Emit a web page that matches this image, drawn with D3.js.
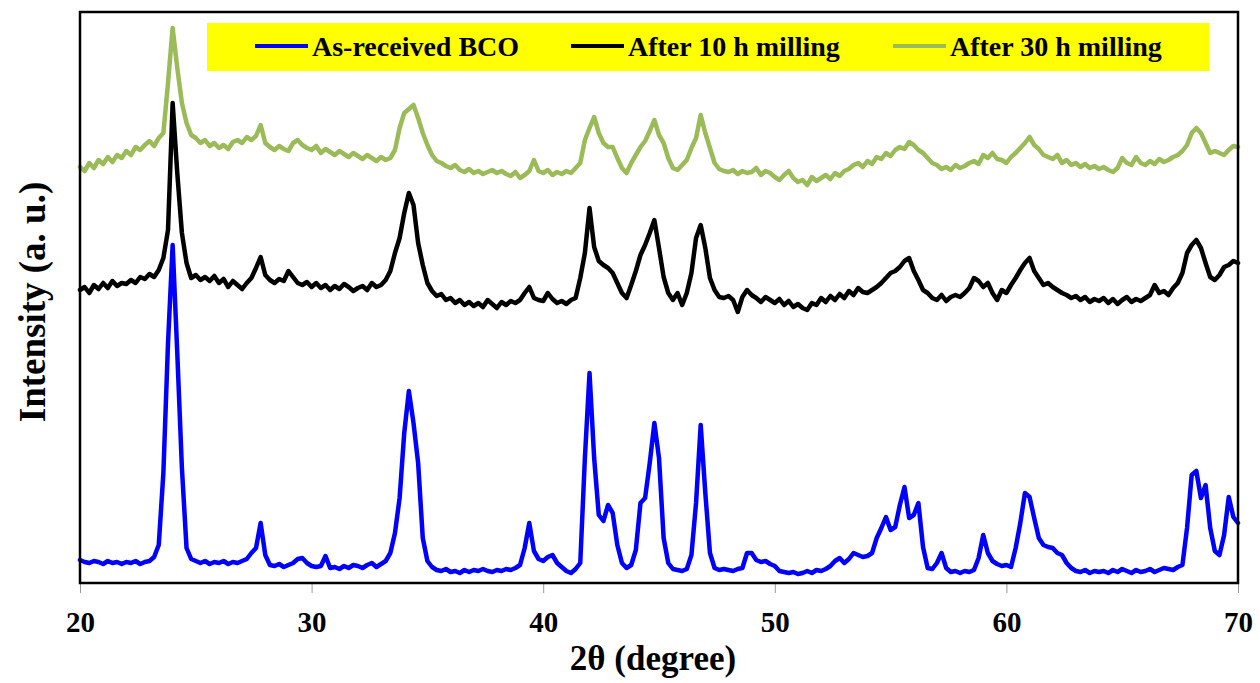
<!DOCTYPE html>
<html>
<head>
<meta charset="utf-8">
<script src="https://cdn.jsdelivr.net/npm/d3@7"></script>
<style>
  html, body { margin: 0; padding: 0; background: #fff; }
  svg text { font-family: "Liberation Serif", "Times New Roman", serif; font-weight: bold; }
</style>
</head>
<body>
<svg id="chart" width="1260" height="683"></svg>
<script>
// 2θ grid, 20 → 70 in steps of 0.2
const twoTheta = d3.range(251).map(i => +(20 + i * 0.2).toFixed(1));
const xTicks = [20, 30, 40, 50, 60, 70];
const seriesNames = ['As-received BCO', 'After 10 h milling', 'After 30 h milling'];
const seriesColors = ['#0000ff', '#000000', '#9bbb59'];

// intensity (a.u.)
const asReceived = [
  23, 21, 20, 22, 21, 19, 22, 20, 21, 19,          // 20.0
  21, 20, 22, 19, 21, 22, 26, 38, 110, 240,        // 22.0
  338, 230, 115, 35, 24, 22, 20, 22, 19, 21,       // 24.0
  20, 22, 19, 21, 20, 22, 24, 30, 35, 60,          // 26.0
  28, 18, 17, 19, 16, 18, 20, 24, 25, 20,          // 28.0
  17, 16, 17, 27, 15, 16, 14, 17, 15, 18,          // 30.0
  17, 15, 18, 20, 16, 19, 22, 30, 50, 85,          // 32.0
  150, 192, 160, 120, 45, 22, 16, 13, 12, 14,      // 34.0
  11, 12, 10, 13, 11, 13, 12, 14, 12, 11,          // 36.0
  13, 12, 14, 13, 15, 18, 35, 60, 32, 24,          // 38.0
  22, 26, 28, 20, 16, 12, 10, 14, 20, 125,         // 40.0
  210, 125, 68, 62, 78, 70, 38, 20, 15, 18,        // 42.0
  33, 80, 85, 120, 160, 125, 45, 20, 14, 13,       // 44.0
  12, 14, 28, 80, 158, 90, 30, 15, 13, 14,         // 46.0
  13, 12, 14, 15, 30, 30, 23, 21, 22, 19,          // 48.0
  17, 12, 11, 10, 11, 9, 10, 12, 10, 13,           // 50.0
  12, 14, 17, 22, 25, 20, 24, 30, 28, 26,          // 52.0
  27, 30, 45, 55, 66, 53, 56, 78, 96, 65,          // 54.0
  68, 80, 36, 15, 14, 20, 30, 15, 11, 12,          // 56.0
  10, 12, 11, 13, 25, 48, 30, 22, 19, 17,          // 58.0
  18, 16, 35, 60, 90, 86, 65, 45, 38, 36,          // 60.0
  35, 30, 28, 20, 15, 12, 11, 13, 10, 12,          // 62.0
  11, 12, 10, 13, 11, 14, 12, 10, 13, 11,          // 64.0
  12, 14, 11, 13, 15, 14, 13, 16, 18, 55,          // 66.0
  108, 112, 85, 98, 55, 32, 28, 48, 86, 66,        // 68.0
  60                                               // 70.0
];

const milled10h = [
  293, 296, 290, 298, 294, 300, 295, 302, 297, 300,
  299, 303, 300, 306, 304, 309, 306, 313, 325, 353,
  480, 410, 350, 320, 305, 308, 303, 306, 302, 307,
  300, 304, 296, 302, 298, 294, 300, 305, 315, 326,
  308, 303, 300, 304, 302, 312, 306, 300, 298, 301,
  296, 300, 295, 298, 293, 297, 294, 299, 296, 292,
  295, 297, 293, 300, 296, 298, 303, 312, 330, 345,
  370, 390, 378, 340, 318, 300, 292, 287, 289, 283,
  285, 280, 283, 278, 281, 277, 280, 276, 283, 279,
  275, 281, 278, 282, 280, 283, 290, 296, 285, 283,
  282, 290, 284, 280, 282, 279, 283, 285, 305, 330,
  375, 336, 322, 318, 315, 310, 300, 290, 285, 298,
  312, 328, 338, 350, 363, 335, 306, 290, 283, 290,
  278, 290, 310, 345, 358, 335, 305, 293, 286, 285,
  287, 283, 271, 286, 293, 288, 285, 281, 286, 283,
  280, 284, 278, 282, 276, 279, 275, 273, 280, 278,
  285, 281, 287, 283, 289, 285, 292, 288, 295, 291,
  290, 293, 296, 300, 305, 310, 312, 316, 322, 325,
  312, 303, 293, 290, 285, 283, 288, 282, 286, 288,
  286, 290, 295, 305, 302, 296, 300, 290, 283, 293,
  290, 298, 305, 313, 320, 325, 312, 305, 298, 300,
  296, 293, 290, 288, 285, 287, 283, 286, 281, 284,
  282, 285, 280, 284, 279, 283, 286, 281, 284, 282,
  285, 288, 298, 290, 292, 288, 295, 300, 310, 330,
  338, 343, 335, 320, 306, 303, 308, 316, 318, 322,
  320
];

const milled30h = [
  416, 412, 420, 415, 423, 419, 426, 421, 428, 425,
  432, 428, 436, 433, 438, 442, 437, 445, 450, 500,
  555, 515, 480, 460, 448, 445, 440, 443, 437, 440,
  435, 438, 434, 441, 443, 440, 446, 443, 447, 458,
  440, 436, 433, 437, 434, 432, 440, 443, 438, 435,
  433, 437, 430, 434, 431, 428, 432, 429, 426, 430,
  427, 424, 428, 425, 422, 426, 423, 425, 433, 455,
  470, 474, 478, 465, 450, 438, 428, 422, 420, 417,
  415, 418, 413, 411, 414, 410, 412, 409, 411, 413,
  410, 412, 409, 407, 411, 405, 408, 412, 423, 412,
  410, 413, 408, 411, 409, 412, 410, 415, 420, 443,
  455, 466, 450, 440, 436, 436, 425, 415, 410, 420,
  428, 436, 442, 452, 463, 448, 440, 425, 415, 413,
  418, 423, 435, 445, 468, 450, 435, 420, 414, 412,
  411, 413, 409, 412, 410, 411, 415, 408, 412, 410,
  406, 403, 408, 412, 405, 401, 403, 398, 406, 402,
  405, 408, 404, 410, 407, 412, 414, 418, 420, 416,
  422, 419, 426, 424, 430, 427, 433, 436, 434, 441,
  438, 433, 430, 425, 420, 418, 414, 416, 413, 418,
  415, 417, 420, 422, 419, 428, 425, 430, 424, 423,
  420, 426, 430, 435, 440, 446, 438, 434, 428, 426,
  424, 428, 420, 423, 418, 420, 416, 419, 415, 417,
  414, 416, 413, 411, 415, 425, 420, 418, 426, 420,
  418, 422, 419, 424, 421, 423, 426, 428, 432, 438,
  450, 455, 450, 440, 430, 432, 430, 428, 433, 437,
  436
];

const seriesValues = [asReceived, milled10h, milled30h];

const svg = d3.select('#chart');
const plot = { left: 80, right: 1238, top: 12, bottom: 583 };

const x = d3.scaleLinear().domain([20, 70]).range([plot.left, plot.right]);
const y = d3.scaleLinear().domain([0, 571]).range([plot.bottom, plot.top]);

// x axis ticks (downward, grey)
const xAxis = d3.axisBottom(x).tickValues(xTicks).tickSize(10).tickFormat(d3.format('d'));
const gx = svg.append('g')
    .attr('transform', `translate(0,${plot.bottom})`)
    .call(xAxis);
gx.select('.domain').remove();
gx.selectAll('line').attr('stroke', '#999').attr('stroke-width', 1);
gx.selectAll('text')
    .attr('y', 49)
    .attr('dy', null)
    .attr('fill', '#000')
    .style('font-size', '29px')
    .style('font-family', '"Liberation Serif", serif')
    .style('font-weight', 'bold');

// series lines
const line = d3.line()
    .x((d, i) => x(twoTheta[i]))
    .y(d => y(d));

[2, 1, 0].forEach(k => {
    svg.append('path')
        .datum(seriesValues[k])
        .attr('d', line)
        .attr('fill', 'none')
        .attr('stroke', seriesColors[k])
        .attr('stroke-width', 4.5)
        .attr('stroke-linejoin', 'round')
        .attr('stroke-linecap', 'round');
});

// plot frame
svg.append('rect')
    .attr('x', plot.left)
    .attr('y', plot.top)
    .attr('width', plot.right - plot.left)
    .attr('height', plot.bottom - plot.top)
    .attr('fill', 'none')
    .attr('stroke', '#000')
    .attr('stroke-width', 2.5);

// legend
const legend = svg.append('g');
legend.append('rect')
    .attr('x', 207).attr('y', 23)
    .attr('width', 1002).attr('height', 48)
    .attr('fill', '#ffff00');

const legendX = [255, 571, 893];
seriesNames.forEach((name, k) => {
    legend.append('line')
        .attr('x1', legendX[k]).attr('x2', legendX[k] + 53)
        .attr('y1', 46).attr('y2', 46)
        .attr('stroke', seriesColors[k])
        .attr('stroke-width', 4);
    legend.append('text')
        .attr('x', legendX[k] + 57)
        .attr('y', 56)
        .style('font-size', '28px')
        .text(name);
});

// axis titles
svg.append('text')
    .attr('x', 653)
    .attr('y', 670)
    .attr('text-anchor', 'middle')
    .style('font-size', '35px')
    .text('2θ (degree)');

svg.append('text')
    .attr('transform', 'translate(45,302) rotate(-90)')
    .attr('text-anchor', 'middle')
    .style('font-size', '37px')
    .text('Intensity (a. u.)');
</script>
</body>
</html>
